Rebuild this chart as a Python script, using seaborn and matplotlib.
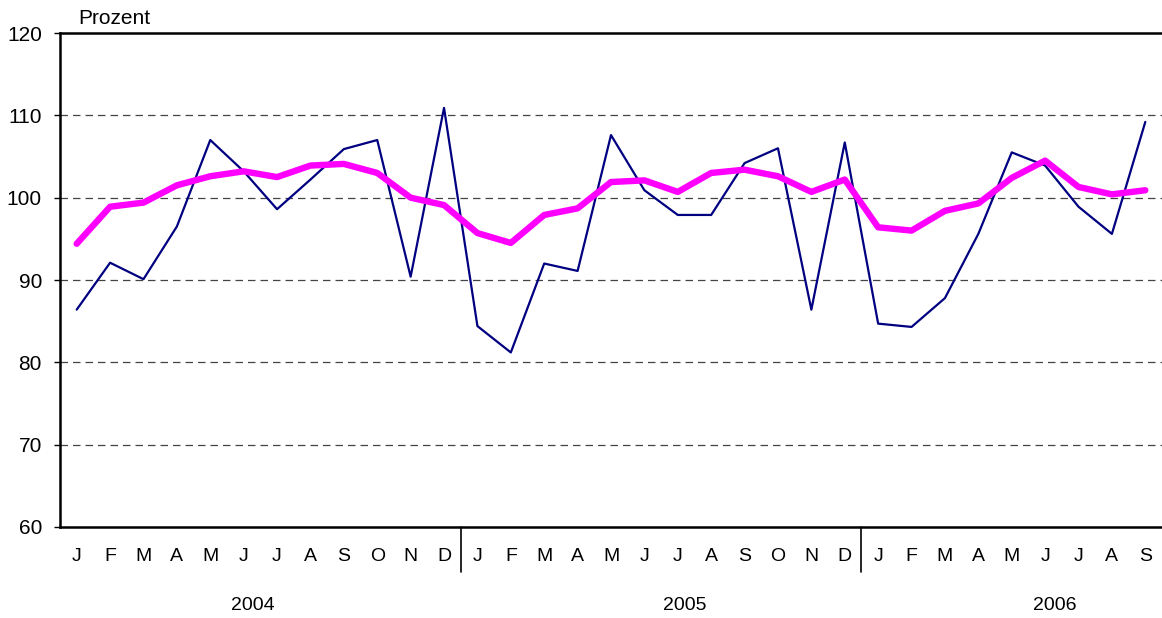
import numpy as np
import pandas as pd
import matplotlib
matplotlib.use("Agg")
import matplotlib.pyplot as plt
import matplotlib.transforms as mtransforms
import seaborn as sns

# monthly values, Jan 2004 - Sep 2006
months = ["J", "F", "M", "A", "M", "J", "J", "A", "S", "O", "N", "D"] * 2 + \
         ["J", "F", "M", "A", "M", "J", "J", "A", "S"]
years = ["2004", "2005", "2006"]

monthly = [86.4, 92.1, 90.1, 96.5, 107.0, 103.2, 98.6, 102.2, 105.9, 107.0, 90.4, 110.9,
           84.4, 81.2, 92.0, 91.1, 107.6, 100.9, 97.9, 97.9, 104.2, 106.0, 86.4, 106.7,
           84.7, 84.3, 87.8, 95.6, 105.5, 103.9, 98.9, 95.6, 109.2]
smoothed = [94.4, 98.9, 99.4, 101.5, 102.6, 103.2, 102.5, 103.9, 104.1, 103.0, 100.0, 99.1,
            95.7, 94.5, 97.9, 98.7, 101.9, 102.1, 100.7, 103.0, 103.4, 102.6, 100.7, 102.2,
            96.4, 96.0, 98.4, 99.3, 102.4, 104.5, 101.3, 100.4, 100.9]

df = pd.DataFrame({"idx": np.arange(len(monthly)), "monthly": monthly, "smoothed": smoothed})

sns.set_style("white")
plt.rcParams["font.family"] = ["Liberation Sans", "DejaVu Sans"]
plt.rcParams["text.color"] = "black"
plt.rcParams["xtick.color"] = "black"
plt.rcParams["ytick.color"] = "black"

W, H = 1162, 618
fig = plt.figure(figsize=(W / 100, H / 100), dpi=100)
ax = fig.add_axes([60 / W, 1 - 527 / H, 1102 / W, 494 / H])

for y in [70, 80, 90, 100, 110]:
    ax.axhline(y, color="#444444", lw=0.9, dashes=(6, 4), zorder=1)

sns.lineplot(data=df, x="idx", y="monthly", color="#000080", lw=1.6, ax=ax, zorder=3)
sns.lineplot(data=df, x="idx", y="smoothed", color="#FF00FF", lw=4.6, ax=ax, zorder=4,
             solid_capstyle="round", solid_joinstyle="round")

ax.set_xlim(-0.5, len(monthly) - 0.5)
ax.set_ylim(60, 120)
ax.set_yticks(range(60, 121, 10))
ax.set_xticks(df["idx"])
ax.set_xticklabels(months)
ax.set_xlabel("")
ax.set_ylabel("")
ax.tick_params(axis="x", length=0, pad=15, labelsize=14)
ax.tick_params(axis="y", length=4, width=1, pad=9, labelsize=15, left=True, direction="out")

for side in ["left", "bottom", "top"]:
    ax.spines[side].set_color("black")
    ax.spines[side].set_linewidth(1.8)
ax.spines["right"].set_visible(False)

# year separators and labels below the month axis
trans = mtransforms.blended_transform_factory(ax.transData, ax.transAxes)
for xs in [11.5, 23.5]:
    ax.plot([xs, xs], [0, -45 / 494], color="black", lw=1.2, transform=trans, clip_on=False)
year_x = [5.28, 18.2, 29.3]
for yx, label in zip(year_x, years):
    ax.text(yx, -78 / 494, label, transform=trans, ha="center", va="center", fontsize=14)

fig.text(78 / W, 1 - 19 / H, "Prozent", ha="left", va="center", fontsize=15)

fig.savefig("out.png", dpi=100)
